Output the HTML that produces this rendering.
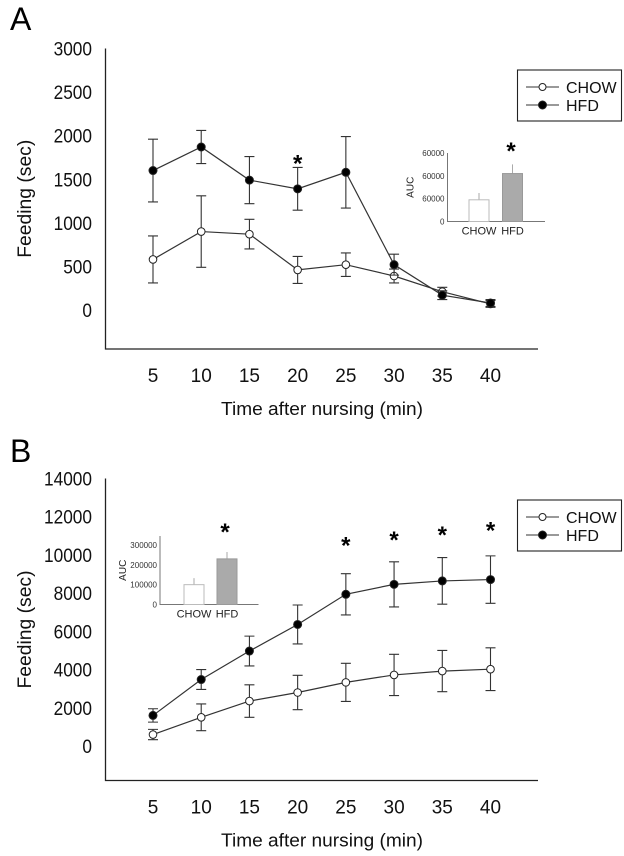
<!DOCTYPE html>
<html><head><meta charset="utf-8"><style>
html,body{margin:0;padding:0;background:#fff;}
svg{display:block;font-family:"Liberation Sans",Arial,sans-serif;}
</style></head><body>
<svg id="fig" width="624" height="856" viewBox="0 0 624 856" xmlns="http://www.w3.org/2000/svg"></svg>
<script>
// ---- data ----
const xCats = [5,10,15,20,25,30,35,40];
const aChow = [580,900,870,460,520,390,210,70];
const aChowErr = [270,410,170,155,135,80,50,40];
const aHfd = [1600,1870,1490,1390,1580,520,170,80];
const aHfdErr = [360,190,270,245,410,120,50,40];
const aYTicks = [0,500,1000,1500,2000,2500,3000];
const aStars = [20];
const aStarVals = [1750];
const aAucCats = ["CHOW","HFD"];
const aAucVals = [19000,42000];
const aAucErr = [6000,8000];
const aAucTicks = [0,20000,40000];
const aAucTickLabels = ["0","60000","60000","60000"];

const bChow = [600,1500,2350,2800,3330,3720,3920,4020];
const bChowErr = [270,700,850,900,1000,1080,1080,1120];
const bHfd = [1600,3480,4970,6360,7940,8460,8640,8710];
const bHfdErr = [350,520,780,1020,1080,1180,1220,1240];
const bYTicks = [0,2000,4000,6000,8000,10000,12000,14000];
const bStars = [25,30,35,40];
const bStarVals = [10800,11100,11350,11600];
const bAucVals = [100000,230000];
const bAucErr = [33000,35000];
const bAucTicks = [0,100000,200000,300000];

const NS="http://www.w3.org/2000/svg";
const svg=document.getElementById('fig');
function mk(tag,attrs,parent,text){const e=document.createElementNS(NS,tag);for(const k in attrs)e.setAttribute(k,attrs[k]);if(text!==undefined)e.textContent=text;(parent||svg).appendChild(e);return e;}

function panel(p){
  const g=mk('g',{});
  
  
  const X=v=>153+(v-5)*(490.5-153)/35;
  const Y=v=>p.y0+(v-0)*(p.yTop-p.y0)/p.yMax;
  const lbl=mk('text',{x:10,y:p.letterY,'font-size':32},g,p.letter);
  
  
  const ax=mk('path',{d:`M105.5 ${p.yTop} V${p.axisB} H538`,fill:'none',stroke:'#222','stroke-width':1.3},g);
  
  
  p.yTicks.forEach(t=>{
    const tt=mk('text',{x:92,y:Y(t)+7,'font-size':19,'text-anchor':'end',fill:'#111',textLength:String(t).length*9.6,lengthAdjust:'spacingAndGlyphs'},g,String(t));
    
    
  });
  xCats.forEach(c=>{
    const tt=mk('text',{x:X(c),y:p.axisB+33,'font-size':19,'text-anchor':'middle',fill:'#111'},g,String(c));
    
    
  });
  const xt=mk('text',{x:322,y:p.axisB+66,'font-size':18,'text-anchor':'middle',fill:'#111',textLength:202,lengthAdjust:'spacingAndGlyphs'},g,'Time after nursing (min)');
  
  
  const cy=(p.yTop+p.axisB)/2;
  const yt=mk('text',{x:0,y:0,'font-size':19,'text-anchor':'middle',fill:'#111',transform:`translate(31 ${cy}) rotate(-90)`,textLength:118,lengthAdjust:'spacingAndGlyphs'},g,'Feeding (sec)');
  
  
  [[p.chow,p.chowErr,false],[p.hfd,p.hfdErr,true]].forEach(([vals,errs,filled])=>{
    const sg=mk('g',{},g);
    
    
    vals.forEach((v,i)=>{
      const x=X(xCats[i]),hi=Y(v+errs[i]),lo=Y(v-errs[i]);
      const eb=mk('path',{d:`M${x} ${hi}V${lo}M${x-5} ${hi}H${x+5}M${x-5} ${lo}H${x+5}`,stroke:'#333','stroke-width':1.1,fill:'none'},sg);
      
      
    });
    const pl=mk('polyline',{points:vals.map((v,i)=>X(xCats[i])+','+Y(v)).join(' '),fill:'none',stroke:'#333','stroke-width':1.2},sg);
    
    
    vals.forEach((v,i)=>{
      const c=mk('circle',{cx:X(xCats[i]),cy:Y(v),r:filled?4:3.8,fill:filled?'#000':'#fff',stroke:'#222','stroke-width':1},sg);
      
      
    });
  });
  p.stars.forEach((s,i)=>{
    const st=mk('text',{x:X(s),y:Y(p.starVals[i])+14,'font-size':24,'font-weight':'bold','text-anchor':'middle',fill:'#000'},g,'*');
    
    
  });
  // legend
  const lg=mk('g',{},g);
  
  
  mk('rect',{x:517.5,y:p.legY,width:104,height:51,fill:'#fff',stroke:'#222','stroke-width':1.1},lg);
  [[false,'CHOW',17],[true,'HFD',35]].forEach(([f,t,dy])=>{
    const e=mk('g',{},lg);
    
    
    mk('line',{x1:526,x2:559,y1:p.legY+dy,y2:p.legY+dy,stroke:'#333','stroke-width':1.1},e);
    mk('circle',{cx:542.5,cy:p.legY+dy,r:f?4:3.5,fill:f?'#000':'#fff',stroke:'#222'},e);
    mk('text',{x:566,y:p.legY+dy+6,'font-size':16,fill:'#111'},e,t);
  });
  // inset
  const ins=p.inset, ig=mk('g',{},g);
  
  
  const IY=v=>ins.base+(v/ins.max)*(ins.top-ins.base);
  mk('path',{d:`M${ins.x0} ${ins.top}V${ins.base}H${ins.x1}`,fill:'none',stroke:'#777','stroke-width':1},ig);
  ins.ticks.forEach((t,i)=>{
    const tt=mk('text',{x:ins.x0-3,y:IY(t)+3,'font-size':8,'text-anchor':'end',fill:'#333'},ig,ins.tickLabels?ins.tickLabels[i]:String(t));
    
    
  });
  mk('text',{x:0,y:0,'font-size':10,'text-anchor':'middle',fill:'#222',transform:`translate(${ins.x0-34} ${(ins.top+ins.base)/2}) rotate(-90)`},ig,'AUC');
  ins.vals.forEach((v,i)=>{
    const bx=ins.bx[i],bw=20,cx=bx+bw/2;
    const er=mk('line',{x1:cx,x2:cx,y1:IY(v),y2:IY(v+ins.err[i]),stroke:'#aaa','stroke-width':1},ig);
    
    
    const b=mk('rect',{x:bx,y:IY(v),width:bw,height:ins.base-IY(v),fill:i?'#aaa':'#fff',stroke:i?'#999':'#bbb','stroke-width':1},ig);
    
    
    mk('text',{x:cx,y:ins.base+13,'font-size':11,'text-anchor':'middle',fill:'#222'},ig,aAucCats[i]);
  });
  const is=mk('text',{x:ins.starX,y:ins.starY+14,'font-size':24,'font-weight':'bold','text-anchor':'middle'},ig,'*');
  
  
}

panel({id:'a',letter:'A',letterY:30,yTop:48.5,y0:310,yMax:3000,axisB:349,
  yTicks:aYTicks,chow:aChow,chowErr:aChowErr,hfd:aHfd,hfdErr:aHfdErr,stars:aStars,starVals:aStarVals,legY:70,
  inset:{x0:447.5,x1:545,top:153,base:221.5,max:60000,ticks:[0,20000,40000,60000],tickLabels:aAucTickLabels,
    vals:aAucVals,err:aAucErr,bx:[469,502.5],starX:511,starY:145}});
panel({id:'b',letter:'B',letterY:462,yTop:478.5,y0:746,yMax:14000,axisB:780.5,
  yTicks:bYTicks,chow:bChow,chowErr:bChowErr,hfd:bHfd,hfdErr:bHfdErr,stars:bStars,starVals:bStarVals,legY:500,
  inset:{x0:160,x1:258.5,top:536,base:604.5,max:300000*(604.5-536)/(604.5-545),ticks:bAucTicks,
    vals:bAucVals,err:bAucErr,bx:[184,217],starX:225,starY:526}});
</script>
</body></html>
